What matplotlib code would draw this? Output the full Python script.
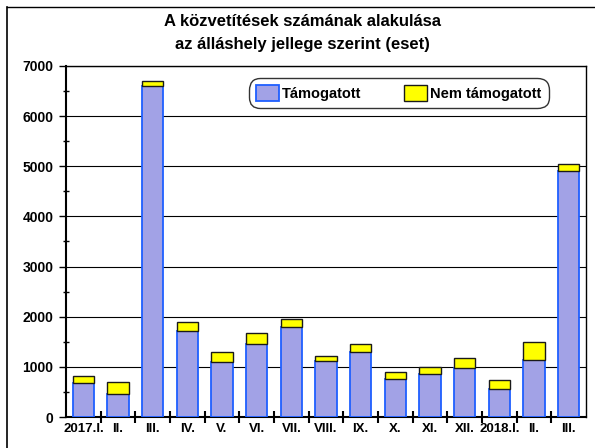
import matplotlib
matplotlib.use("Agg")
import matplotlib.pyplot as plt
from matplotlib.lines import Line2D
import numpy as np

plt.rcParams['font.family'] = ['Liberation Sans', 'DejaVu Sans']
plt.rcParams['font.weight'] = 'bold'

categories = ["2017.I.", "II.", "III.", "IV.", "V.", "VI.", "VII.", "VIII.",
              "IX.", "X.", "XI.", "XII.", "2018.I.", "II.", "III."]
tamogatott = [680, 470, 6600, 1710, 1100, 1450, 1800, 1110,
              1300, 760, 850, 980, 560, 1130, 4900]
nem_tamogatott = [130, 225, 100, 190, 200, 230, 160, 110,
                  160, 145, 145, 200, 175, 360, 150]
title = "A közvetítések számának alakulása\naz álláshely jellege szerint (eset)"
y_ticks = [0, 1000, 2000, 3000, 4000, 5000, 6000, 7000]

fig = plt.figure(figsize=(5.95, 4.48), dpi=100)
ax = fig.add_axes([0.111, 0.069, 0.874, 0.784])

x = np.arange(len(categories))
w = 0.62
ax.bar(x, tamogatott, w, color='#a2a2e6', edgecolor='#1f5fff', linewidth=1.3,
       label='Támogatott', zorder=3)
ax.bar(x, nem_tamogatott, w, bottom=tamogatott, color='#ffff00',
       edgecolor='#1a1a1a', linewidth=1.0, label='Nem támogatott', zorder=3)

ax.set_xlim(-0.5, len(categories) - 0.5)
ax.set_ylim(0, 7000)
ax.set_yticks(y_ticks)
ax.set_yticklabels([str(v) for v in y_ticks], fontsize=10, fontweight='bold')
ax.set_yticks(np.arange(500, 7000, 1000), minor=True)
ax.tick_params(axis='y', which='major', direction='out', length=5, width=1, pad=4)
ax.tick_params(axis='y', which='minor', direction='inout', length=5, width=1)
ax.yaxis.grid(True, which='major', color='black', linewidth=0.8, zorder=0)

ax.set_xticks(x)
ax.set_xticklabels(categories, fontsize=9.5, fontweight='bold')
ax.tick_params(axis='x', which='major', length=0, pad=4)
ax.set_xticks(np.arange(0.5, len(categories) - 1, 1.0), minor=True)
ax.tick_params(axis='x', which='minor', direction='inout', length=8, width=1.5)

for s in ax.spines.values():
    s.set_color('black')
    s.set_linewidth(1.0)
ax.spines['left'].set_linewidth(1.5)
ax.spines['bottom'].set_linewidth(1.5)

fig.text(0.508, 0.926, title, ha='center', va='center', fontsize=12,
         fontweight='bold', linespacing=1.65)

leg = ax.legend(loc='upper left', bbox_to_anchor=(0.343, 0.978), ncol=2,
                fontsize=10.5, frameon=True, fancybox=True, edgecolor='black',
                handlelength=1.6, handleheight=1.3, columnspacing=2.9,
                handletextpad=0.2, borderpad=0.3)
leg.get_frame().set_linewidth(1.0)
leg.get_frame().set_boxstyle('round,pad=0.2,rounding_size=0.8')

# outer frame
fig.add_artist(Line2D([7/595, 7/595], [0, 1 - 7/448], color='black', lw=1.2,
                      transform=fig.transFigure))
fig.add_artist(Line2D([7/595, 1], [1 - 7/448, 1 - 7/448], color='black', lw=1.0,
                      transform=fig.transFigure))

fig.savefig("out.png", dpi=100)
